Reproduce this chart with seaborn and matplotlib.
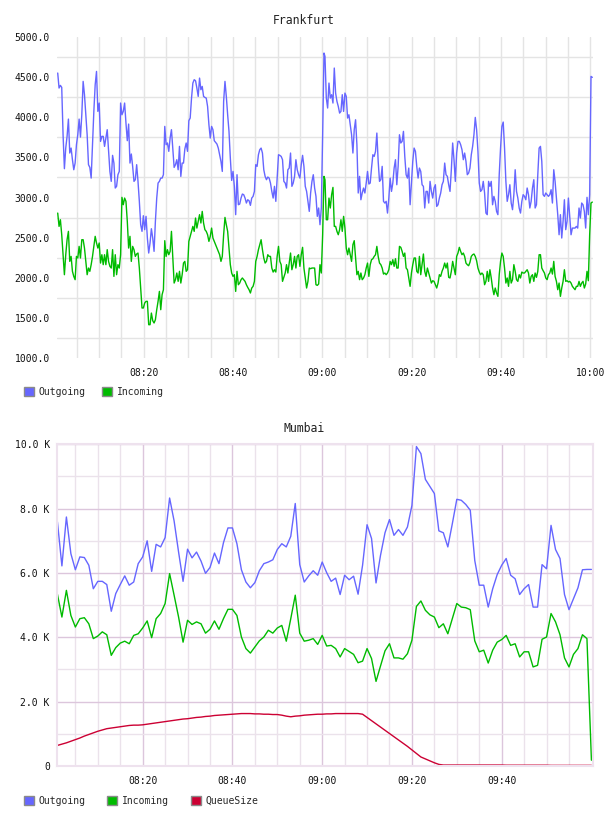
import numpy as np
import pandas as pd
import matplotlib
matplotlib.use("Agg")
import matplotlib.pyplot as plt
import seaborn as sns
from matplotlib.patches import Patch

sns.set_style("white")
plt.rcParams['font.family'] = ['DejaVu Sans Mono', 'DejaVu Sans']

# ---------------- Frankfurt (minutes after 08:00, two sampled segments) -------------
fra_seg_a = (0.75, 60.37)
fra_seg_b = (60.59, 120.45)
fra_out_a = [4551,4364,4397,4372,3782,3359,3616,3762,3977,3554, 3616,3471,3346,3429,3658,3782,3977,3753,4031,4447,
             4281,4031,3782,3409,3375,3242,3658,4073,4405,4571, 4073,4177,3699,3762,3762,3637,3741,3845,3575,3325,
             3201,3525,3429,3118,3139,3284,3325,4177,4031,4073, 4177,3928,3708,3915,3429,3542,3388,3201,3222,3409,
             3201,2952,2661,2578,2773,2599,2765,2495,2308,2433, 2611,2495,2329,2703,2993,3180,3201,3242,3242,3284,
             3886,3658,3679,3575,3741,3845,3616,3375,3409,3471, 3346,3637,3263,3429,3429,3604,3679,3575,3957,3990,
             4239,4426,4468,4455,4364,4260,4488,4343,4384,4260, 4247,4239,4135,3907,3741,3886,3845,3708,3687,3666,
             3616,3533,3450,3325,4198,4447,4260,4031,3824,3492, 3213,3325,3139,2786,3284,2910,2918,2993,3043,3035,
             2993,2931,2972,2960,2902,2993,3014,3076,3409,3388, 3533,3596,3616,3554,3346,3263,3222,3255,3242,3180,
             3076,2993,3139,2952,3242,3533,3525,3512,3471,3201, 3180,3118,3346,3367,3554,3139,3180,3263,3471,3346,
             3284,3242,3409,3525,3388,3139,3076,2952,2827,3056, 3201,3284,3118,3014,2765,2869,2661,2869,3782,4800]
fra_out_b = [4758,4239,4115,4426,4239,4281,4177,4613,4301,4198, 4135,4052,4073,4281,4073,4301,4260,3990,4031,3907,
             3782,3554,3845,3969,3658,3056,3263,2972,3056,3118, 3056,3180,3325,3168,3180,3367,3533,3512,3575,3803,
             3450,3201,3222,3388,2952,2931,2952,2806,2993,3242, 3076,3180,3367,3471,3159,3388,3782,3679,3699,3824,
             3512,3284,3242,3367,2910,3180,3450,3616,3575,3388, 3242,3367,3325,3159,3139,2869,3076,3076,2931,3201,
             3076,2993,3118,3159,2889,2910,2993,3056,3159,3201, 3429,3284,3263,3159,3076,3346,3679,3471,3201,3554,
             3699,3699,3658,3596,3471,3554,3450,3284,3305,3367, 3533,3637,3782,3998,3845,3575,3180,3076,3097,3201,
             3056,2806,2786,3201,3139,3201,2910,3014,2952,2827, 2786,3284,3616,3886,3940,3616,3201,2952,3035,3159,
             2931,2848,3035,3346,3076,2993,2869,2806,2952,3035, 3014,2972,3118,3035,2869,2952,3118,3222,2869,2910,
             3284,3616,3637,3450,3035,3014,3056,3035,3014,3035, 3097,2931,3346,3201,2993,2786,2536,2786,2495,2703,
             2972,2599,2703,2993,2765,2536,2619,2619,2619,2640, 2619,2869,2744,2931,2910,2827,2619,3002,2786,3035,
             4509,4497]
fra_in_a = [2806,2640,2723,2536,2287,2038,2287,2474,2578,2204, 2266,2080,2017,1976,2266,2246,2391,2246,2474,2474,
            2370,2204,2038,2121,2080,2163,2266,2391,2516,2433, 2370,2433,2183,2287,2163,2287,2163,2350,2204,2142,
            2121,2350,2017,2287,2038,2163,2121,2287,3002,2910, 2993,2952,2703,2370,2516,2204,2391,2350,2266,2296,
            2308,2121,1872,1623,1623,1685,1706,1706,1415,1415, 1560,1465,1436,1477,1602,1706,1830,1602,1789,1851,
            2462,2266,2350,2287,2329,2578,2266,1934,1976,2059, 1955,2080,1934,2038,2183,2204,2080,2100,2453,2516,
            2578,2640,2578,2744,2619,2703,2786,2682,2827,2682, 2599,2578,2536,2453,2516,2619,2495,2453,2412,2370,
            2329,2287,2204,2266,2536,2752,2661,2578,2370,2163, 2059,2017,2038,1830,2080,1913,1934,1976,1997,1976,
            1955,1913,1880,1851,1810,1872,1893,1955,2204,2266, 2350,2412,2474,2350,2246,2183,2204,2287,2266,2266,
            2121,2071,2100,2071,2266,2391,2204,2163,1955,2005, 2059,2163,2059,2183,2308,2100,2163,2266,2121,2266,
            2287,2142,2287,2379,2121,1997,1872,1955,2121,2113, 2121,2121,2121,1913,1905,1922,2163,2059,2536,3263]
fra_in_b = [3222,2723,2723,2993,2869,3035,3126,2640,2640,2578, 2536,2599,2723,2578,2765,2619,2370,2287,2370,2287,
            2204,2412,2462,2246,2038,2080,1976,2059,1976,1997, 2038,2121,2183,2017,2163,2225,2237,2266,2287,2391,
            2266,2183,2163,2121,2046,2059,2038,2059,2100,2204, 2163,2225,2142,2237,2121,2121,2391,2379,2329,2266,
            2308,2121,2100,1997,1893,2059,2163,2246,2246,2080, 2059,2266,2038,2163,2296,2080,2017,2121,2059,1997,
            1934,1963,1955,1913,1872,1934,2038,2017,2080,2121, 2183,2121,2183,2005,1997,2080,2204,2121,2038,2266,
            2308,2379,2329,2287,2308,2266,2183,2163,2150,2192, 2266,2287,2296,2266,2212,2121,2071,2038,2059,2038,
            1913,1955,2080,1955,2100,1997,1872,1789,1872,1810, 1768,2038,2204,2308,2266,2121,1934,1997,1893,2080,
            1934,1976,2163,2080,1976,1955,2038,1997,2071,2059, 2059,2080,2100,2059,1934,2017,2038,1955,2059,2005,
            2080,2287,2287,2121,2088,2059,1997,1976,2038,2059, 2121,2046,2204,2017,1955,1851,1934,1768,1872,1955,
            2100,1955,1963,1947,1955,1934,1893,1872,1851,1893, 1893,1955,1893,1934,1955,1872,1922,2080,1963,2536,
            2931,2943]

fra_yticks = [1000, 1500, 2000, 2500, 3000, 3500, 4000, 4500, 5000]
fra_ylabels = ["1000.0", "1500.0", "2000.0", "2500.0", "3000.0", "3500.0", "4000.0", "4500.0", "5000.0"]
fra_xticks = [20, 40, 60, 80, 100, 120]
fra_xlabels = ["08:20", "08:40", "09:00", "09:20", "09:40", "10:00"]

# ---------------- Mumbai (one sample per minute after 08:00) ----------------
mum_minutes = list(range(1, 121))
mum_out = [7590,6220,7740,6600,6100,6500,6480,6240,5510,5740, 5740,5640,4810,5360,5640,5910,5620,5720,6290,6500,
           7000,6050,6890,6810,7100,8330,7620,6650,5740,6740, 6470,6650,6370,5990,6170,6620,6290,6940,7400,7400,
           6910,6100,5720,5540,5700,6070,6290,6340,6410,6730, 6910,6810,7140,8160,6260,5720,5910,6070,5930,6340,
           6010,5740,5840,5330,5930,5790,5900,5340,6240,7500, 7070,5690,6550,7250,7660,7170,7350,7170,7430,8100,
           9930,9710,8910,8690,8470,7310,7250,6810,7530,8290, 8260,8130,7950,6390,5620,5620,4940,5510,5950,6240,
           6450,5930,5820,5330,5510,5640,4940,4940,6260,6130, 7480,6730,6450,5330,4860,5200,5540,6100,6110,6110]
mum_in = [5340,4630,5460,4680,4320,4580,4610,4420,3960,4040, 4170,4080,3440,3680,3820,3880,3800,4060,4110,4290,
          4510,3990,4580,4740,5050,5980,5310,4630,3850,4530, 4400,4480,4420,4130,4250,4510,4250,4580,4870,4870,
          4680,4010,3650,3510,3700,3890,4010,4220,4130,4290, 4370,3880,4580,5310,4130,3880,3910,3960,3780,4060,
          3730,3750,3650,3390,3650,3560,3470,3210,3260,3650, 3340,2630,3110,3580,3800,3360,3360,3320,3490,3910,
          4960,5130,4840,4700,4630,4300,4420,4110,4580,5050, 4940,4920,4860,3890,3550,3600,3200,3600,3850,3930,
          4060,3750,3800,3390,3550,3550,3080,3130,3940,4010, 4740,4480,4080,3360,3080,3470,3650,4080,3960,180]
mum_queue = [640,680,720,770,820,870,930,980,1030,1080, 1120,1160,1180,1200,1220,1240,1260,1270,1270,1280,
             1300,1320,1340,1360,1380,1400,1420,1440,1460,1470, 1490,1510,1520,1540,1550,1570,1580,1590,1600,1610,
             1620,1630,1630,1630,1620,1620,1610,1610,1600,1600, 1580,1550,1530,1550,1560,1580,1590,1600,1610,1610,
             1620,1620,1630,1630,1630,1630,1630,1630,1610,1510, 1410,1310,1210,1110,1010,910,810,710,610,500,
             390,280,220,160,100,50,30,30,30,30, 30,30,30,30,30,30,30,30,30,30,
             25,25,25,25,25,25,25,25,25,25, 20,20,20,20,20,20,20,20,20,20]

mum_yticks = [0, 2000, 4000, 6000, 8000, 10000]
mum_ylabels = ["0", "2.0 K", "4.0 K", "6.0 K", "8.0 K", "10.0 K"]
mum_xticks = [20, 40, 60, 80, 100]
mum_xlabels = ["08:20", "08:40", "09:00", "09:20", "09:40"]

series_names = ["Outgoing", "Incoming", "QueueSize"]
series_colors = {"Outgoing": "#6666ff", "Incoming": "#00bb00", "QueueSize": "#cc0033"}

# ---------------- tables ----------------
def seg_times(seg, n):
    return np.linspace(seg[0], seg[1], n)

fra = pd.concat([
    pd.DataFrame({"minute": np.concatenate([seg_times(fra_seg_a, len(fra_out_a)), seg_times(fra_seg_b, len(fra_out_b))]),
                  "value": fra_out_a + fra_out_b, "series": "Outgoing"}),
    pd.DataFrame({"minute": np.concatenate([seg_times(fra_seg_a, len(fra_in_a)), seg_times(fra_seg_b, len(fra_in_b))]),
                  "value": fra_in_a + fra_in_b, "series": "Incoming"}),
], ignore_index=True)

mum = pd.concat([
    pd.DataFrame({"minute": mum_minutes, "value": mum_out, "series": "Outgoing"}),
    pd.DataFrame({"minute": mum_minutes, "value": mum_in, "series": "Incoming"}),
    pd.DataFrame({"minute": mum_minutes, "value": mum_queue, "series": "QueueSize"}),
], ignore_index=True)

# ---------------- figure ----------------
W, H = 608, 816
fig = plt.figure(figsize=(W / 100, H / 100), dpi=100)
ax1 = fig.add_axes([57 / W, (H - 358) / H, 536 / W, 321 / H])
ax2 = fig.add_axes([56.7 / W, (H - 766) / H, 536.3 / W, 321.7 / H])

sns.lineplot(data=fra, x="minute", y="value", hue="series", hue_order=["Outgoing", "Incoming"],
             palette=series_colors, estimator=None, linewidth=1.0, legend=False, ax=ax1)
sns.lineplot(data=mum, x="minute", y="value", hue="series", hue_order=series_names,
             palette=series_colors, estimator=None, linewidth=1.0, legend=False, ax=ax2)

# top axes styling
ax1.set_xlim(0.59, 120.6)
ax1.set_ylim(1000, 5000)
ax1.set_yticks(fra_yticks)
ax1.set_yticklabels(fra_ylabels)
ax1.set_yticks(np.arange(1250, 5000, 500), minor=True)
ax1.set_xticks(fra_xticks)
ax1.set_xticklabels(fra_xlabels)
ax1.set_xticks(np.arange(5, 121, 5), minor=True)
ax1.grid(False)
ax1.grid(which="minor", axis="both", color="#e4e4e4", linewidth=1.0)
ax1.grid(which="major", axis="x", color="#e4e4e4", linewidth=1.0)
for s in ax1.spines.values():
    s.set_visible(False)
ax1.tick_params(axis="both", which="both", length=0, labelsize=7, colors="#111111")
ax1.tick_params(axis="x", pad=7.5)
ax1.tick_params(axis="y", pad=5)
ax1.set_xlabel("")
ax1.set_ylabel("")

# bottom axes styling
ax2.set_xlim(0.84, 120.35)
ax2.set_ylim(0, 10000)
ax2.set_yticks(mum_yticks)
ax2.set_yticklabels(mum_ylabels)
ax2.set_yticks(np.arange(1000, 10000, 2000), minor=True)
ax2.set_xticks(mum_xticks)
ax2.set_xticklabels(mum_xlabels)
ax2.set_xticks(np.arange(5, 120, 5), minor=True)
ax2.grid(False)
ax2.grid(which="major", axis="both", color="#dcc6dc", linewidth=1.0)
ax2.grid(which="minor", axis="both", color="#ebe2eb", linewidth=1.0)
for s in ax2.spines.values():
    s.set_visible(True)
    s.set_color("#eee2ee")
    s.set_linewidth(1.5)
ax2.tick_params(axis="both", which="both", length=0, labelsize=7, colors="#111111")
ax2.tick_params(axis="x", pad=7.5)
ax2.tick_params(axis="y", pad=5)
ax2.set_xlabel("")
ax2.set_ylabel("")
ax2.set_axisbelow(True)
ax1.set_axisbelow(True)

# titles
fig.text(0.5, 1 - 20 / H, "Frankfurt", ha="center", va="center", fontsize=8.3, color="#222222")
fig.text(0.5, 1 - 428 / H, "Mumbai", ha="center", va="center", fontsize=8.3, color="#222222")

# legends
def handles(names):
    return [Patch(facecolor=series_colors[n], edgecolor="#8a8a8a", linewidth=1.0, label=n) for n in names]

common = dict(loc="center left", frameon=False, fontsize=7, handlelength=1.03, handleheight=1.0,
              handletextpad=0.5, borderpad=0, borderaxespad=0)
fig.legend(handles=handles(["Outgoing", "Incoming"]), ncol=2, columnspacing=1.67,
           bbox_to_anchor=(24 / W, 1 - 392 / H), **common)
fig.legend(handles=handles(series_names), ncol=3, columnspacing=2.2,
           bbox_to_anchor=(24 / W, 1 - 800.5 / H), **common)

fig.savefig("out.png", dpi=100)
